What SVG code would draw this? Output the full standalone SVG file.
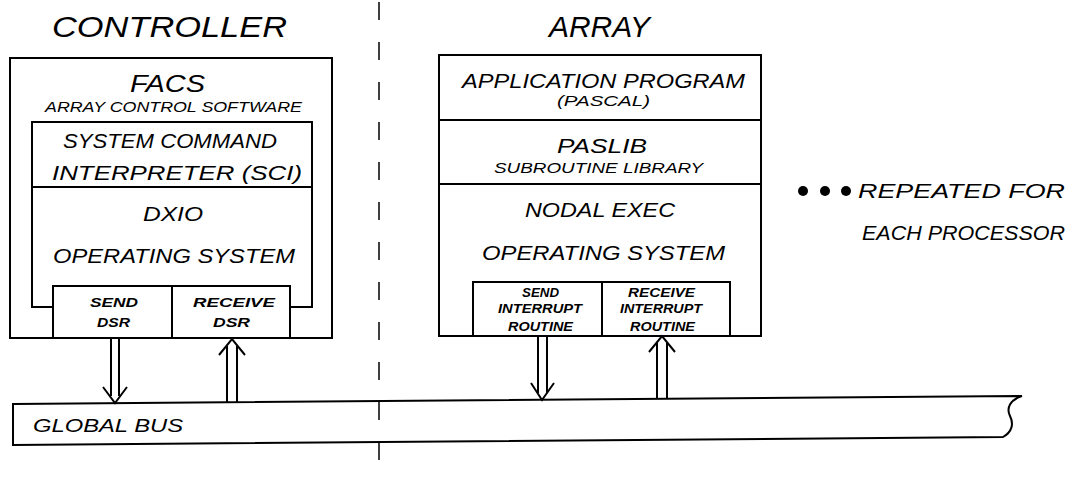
<svg xmlns="http://www.w3.org/2000/svg" width="1074" height="482" viewBox="0 0 1074 482">
<style>
.box{fill:none;stroke:#000;stroke-width:2}
.ln{fill:none;stroke:#000;stroke-width:2;stroke-linejoin:miter}
.t{font-family:"Liberation Sans",Arial,sans-serif;font-style:italic;fill:#000}
.big{font-size:29px}
.mid{font-size:21px}
.sm{font-size:13px;font-weight:bold}
.sub{font-size:14px}
.dash{stroke:#000;stroke-width:1.5;stroke-dasharray:18 22}
</style>
<rect width="1074" height="482" fill="#fff"/>
<line class="dash" x1="379" y1="2" x2="379" y2="482"/>
<text class="t big" x="52" y="37" textLength="235" lengthAdjust="spacingAndGlyphs">CONTROLLER</text>
<text class="t big" x="549" y="37" textLength="101" lengthAdjust="spacingAndGlyphs">ARRAY</text>
<g id="controller">
<rect class="box" x="10" y="58" width="322" height="280"/>
<text class="t" style="font-size:23px" x="130" y="92" textLength="75" lengthAdjust="spacingAndGlyphs">FACS</text>
<text class="t sub" x="45" y="112" textLength="257" lengthAdjust="spacingAndGlyphs">ARRAY CONTROL SOFTWARE</text>
</g>
<g id="sci">
<path class="ln" d="M53,307 H32 V122 H312 V307 H290"/>
<line class="ln" x1="32" y1="187" x2="312" y2="187"/>
<text class="t mid" x="63" y="148" textLength="214" lengthAdjust="spacingAndGlyphs">SYSTEM COMMAND</text>
<text class="t mid" x="52" y="180" textLength="250" lengthAdjust="spacingAndGlyphs">INTERPRETER (SCI)</text>
</g>
<g id="dxio">
<text class="t mid" x="143" y="221" textLength="60" lengthAdjust="spacingAndGlyphs">DXIO</text>
<text class="t mid" x="53" y="263" textLength="242" lengthAdjust="spacingAndGlyphs">OPERATING SYSTEM</text>
</g>
<g id="send-dsr">
<rect class="box" x="53" y="286" width="119" height="52"/>
<text class="t sm" x="90" y="307" textLength="48" lengthAdjust="spacingAndGlyphs">SEND</text>
<text class="t sm" x="97" y="327" textLength="33" lengthAdjust="spacingAndGlyphs">DSR</text>
</g>
<g id="receive-dsr">
<rect class="box" x="172" y="286" width="118" height="52"/>
<text class="t sm" x="193" y="307" textLength="82" lengthAdjust="spacingAndGlyphs">RECEIVE</text>
<text class="t sm" x="213" y="327" textLength="37" lengthAdjust="spacingAndGlyphs">DSR</text>
</g>
<g id="array">
<rect class="box" x="439" y="55" width="322" height="281"/>
</g>
<g id="application">
<line class="ln" x1="439" y1="120" x2="761" y2="120"/>
<text class="t mid" x="462" y="88" textLength="283" lengthAdjust="spacingAndGlyphs">APPLICATION PROGRAM</text>
<text class="t sub" x="557" y="106" textLength="93" lengthAdjust="spacingAndGlyphs">(PASCAL)</text>
</g>
<g id="paslib">
<line class="ln" x1="439" y1="184" x2="761" y2="184"/>
<text class="t mid" x="557" y="153" textLength="90" lengthAdjust="spacingAndGlyphs">PASLIB</text>
<text class="t sub" x="494" y="173" textLength="209" lengthAdjust="spacingAndGlyphs">SUBROUTINE LIBRARY</text>
</g>
<g id="nodal-exec">
<text class="t mid" x="525" y="217" textLength="150" lengthAdjust="spacingAndGlyphs">NODAL EXEC</text>
<text class="t mid" x="482" y="260" textLength="243" lengthAdjust="spacingAndGlyphs">OPERATING SYSTEM</text>
</g>
<g id="send-interrupt">
<rect class="box" x="473" y="282" width="129" height="54"/>
<text class="t sm" style="font-size:12px" x="522" y="297" textLength="37" lengthAdjust="spacingAndGlyphs">SEND</text>
<text class="t sm" style="font-size:12px" x="498" y="313" textLength="84" lengthAdjust="spacingAndGlyphs">INTERRUPT</text>
<text class="t sm" style="font-size:12px" x="508" y="331" textLength="65" lengthAdjust="spacingAndGlyphs">ROUTINE</text>
</g>
<g id="receive-interrupt">
<rect class="box" x="602" y="282" width="128" height="54"/>
<text class="t sm" style="font-size:12px" x="628" y="297" textLength="67" lengthAdjust="spacingAndGlyphs">RECEIVE</text>
<text class="t sm" style="font-size:12px" x="620" y="313" textLength="82" lengthAdjust="spacingAndGlyphs">INTERRUPT</text>
<text class="t sm" style="font-size:12px" x="630" y="331" textLength="65" lengthAdjust="spacingAndGlyphs">ROUTINE</text>
</g>
<g id="repeated">
<circle cx="803" cy="191" r="5"/>
<circle cx="825" cy="191" r="5"/>
<circle cx="846" cy="191" r="5"/>
<text class="t mid" x="858" y="198" textLength="207" lengthAdjust="spacingAndGlyphs">REPEATED FOR</text>
<text class="t mid" x="862" y="240" textLength="203" lengthAdjust="spacingAndGlyphs">EACH PROCESSOR</text>
</g>
<g id="global-bus">
<path class="ln" d="M13,404 L1022,396 C1010,400 1006,408 1010,416 C1014,424 1012,432 1003,437 L13,445 Z"/>
<text class="t" style="font-size:19px" x="33" y="432" textLength="150" lengthAdjust="spacingAndGlyphs">GLOBAL BUS</text>
</g>
<g id="connectors">
<path class="ln" d="M111,339 V396 M119,339 V396 M103,387 L115,403 L127,387"/>
<path class="ln" d="M227,402 V346 M237,402 V346 M219,355 L232,339 L245,355"/>
<path class="ln" d="M538,337 V393 M547,337 V393 M531,383 L542,400 L554,383"/>
<path class="ln" d="M657,398 V343 M667,398 V343 M649,352 L662,336 L675,352"/>
</g>
</svg>
